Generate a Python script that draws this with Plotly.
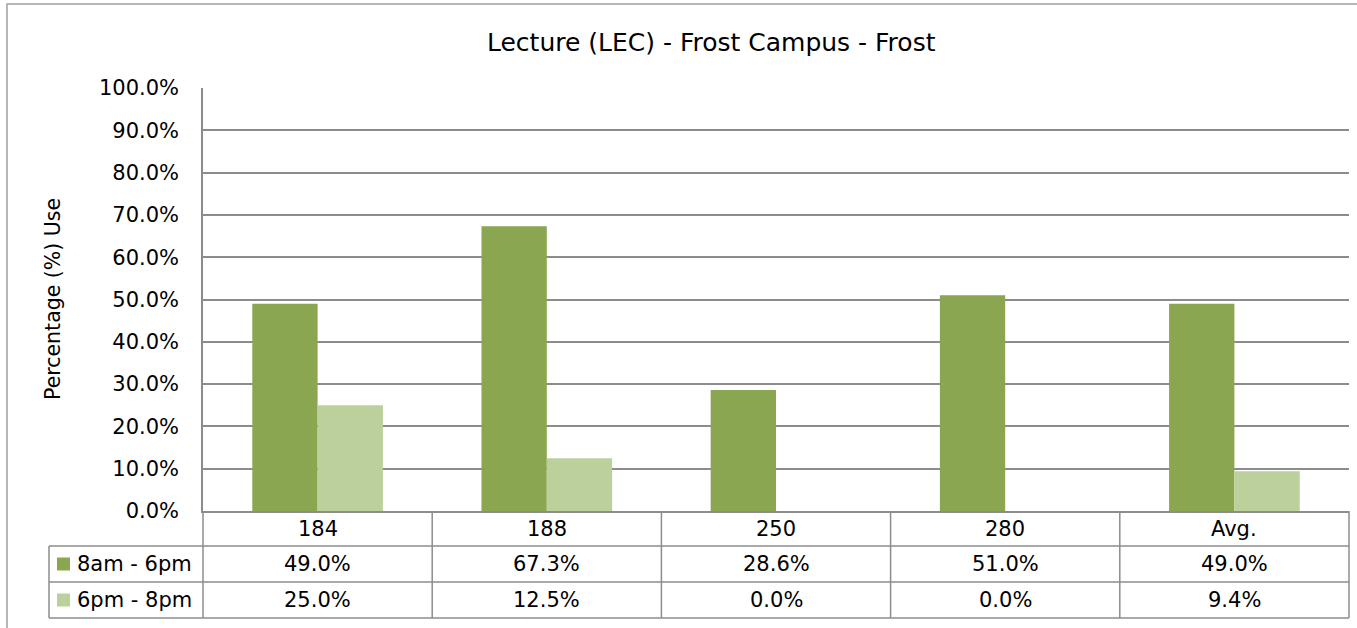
import plotly.graph_objects as go

categories = ["184", "188", "250", "280", "Avg."]
series_names = ["8am - 6pm", "6pm - 8pm"]
day_values = [49.0, 67.3, 28.6, 51.0, 49.0]
eve_values = [25.0, 12.5, 0.0, 0.0, 9.4]
y_ticks = [0, 10, 20, 30, 40, 50, 60, 70, 80, 90, 100]
y_tick_labels = [f"{v:.1f}%" for v in y_ticks]

colors = ["#8AA650", "#BBD09A"]
FONT = "DejaVu Sans"
W, H = 1357, 628
L, R, T, B = 203, 1349, 88, 511
GRID = "#8C8C8C"
TBL = "#8C8C8C"

def py(Y):  # pixel y -> paper y
    return (B - Y) / (B - T)

def px(X):
    return (X - L) / (R - L)

fig = go.Figure()
for name, vals, c in zip(series_names, [day_values, eve_values], colors):
    fig.add_trace(go.Bar(x=categories, y=vals, name=name, marker=dict(color=c, line=dict(width=0)),
                         showlegend=False))

shapes = []
shapes.append(dict(type="rect", xref="paper", yref="paper", x0=px(7), x1=px(1400), y0=py(4), y1=py(700),
                   line=dict(color="#A0A0A0", width=1.5), layer="below"))
for Y in [546, 582, 618]:
    shapes.append(dict(type="line", xref="paper", yref="paper", x0=px(49), x1=px(R), y0=py(Y), y1=py(Y),
                       line=dict(color=TBL, width=1.5)))
shapes.append(dict(type="line", xref="paper", yref="paper", x0=px(49), x1=px(49), y0=py(546), y1=py(618),
                   line=dict(color=TBL, width=1.5)))
ncat = len(categories)
for i in range(ncat + 1):
    xx = i / ncat
    shapes.append(dict(type="line", xref="paper", yref="paper", x0=xx, x1=xx, y0=py(B), y1=py(618),
                       line=dict(color=TBL, width=1.5)))

TF = 21
annotations = []
annotations.append(dict(text="Lecture (LEC) - Frost Campus - Frost", xref="paper", yref="paper",
                        x=px(711), y=py(43), showarrow=False, font=dict(size=25, color="black", family=FONT),
                        xanchor="center", yanchor="middle"))
annotations.append(dict(text="Percentage (%) Use", xref="paper", yref="paper", x=px(53), y=py(299),
                        textangle=-90, showarrow=False, font=dict(size=20.5, color="black", family=FONT),
                        xanchor="center", yanchor="middle"))
for i, cat in enumerate(categories):
    annotations.append(dict(text=cat, xref="x", yref="paper", x=i, y=py(529), showarrow=False,
                            font=dict(size=TF, color="black", family=FONT), xanchor="center", yanchor="middle"))
row_centers = [564, 600]
for vals, yc in zip([day_values, eve_values], row_centers):
    for i, v in enumerate(vals):
        annotations.append(dict(text=f"{v:.1f}%", xref="x", yref="paper", x=i, y=py(yc), showarrow=False,
                                font=dict(size=TF, color="black", family=FONT), xanchor="center", yanchor="middle"))
for name, c, yc in zip(series_names, colors, row_centers):
    shapes.append(dict(type="rect", xref="paper", yref="paper", x0=px(57), x1=px(70), y0=py(yc - 6.5), y1=py(yc + 6.5),
                       fillcolor=c, line=dict(width=0)))
    annotations.append(dict(text=name, xref="paper", yref="paper", x=px(75), y=py(yc), showarrow=False,
                            font=dict(size=TF, color="black", family=FONT), xanchor="left", yanchor="middle"))

fig.update_layout(
    width=W, height=H,
    margin=dict(l=L, r=W - R, t=T, b=H - B, pad=0),
    paper_bgcolor="white", plot_bgcolor="white",
    barmode="group", bargap=0.43, bargroupgap=0,
    shapes=shapes, annotations=annotations,
    font=dict(family=FONT, color="black"),
)
fig.update_xaxes(type="category", categoryorder="array", categoryarray=categories, range=[-0.5, ncat - 0.5],
                 showticklabels=False, showgrid=False, showline=True, linecolor=TBL,
                 linewidth=1.5, zeroline=False, ticks="")
fig.update_yaxes(range=[0, 100], tickvals=y_ticks, ticktext=y_tick_labels, showgrid=True, gridcolor=GRID,
                 gridwidth=1.5, showline=True, linecolor=TBL, linewidth=1.5, zeroline=False,
                 tickfont=dict(size=21, color="black", family=FONT), ticks="outside", ticklen=18,
                 tickcolor="rgba(0,0,0,0)")

fig.write_html("out.html", config={"displayModeBar": False},
               post_script="document.body.style.margin='0';document.body.style.padding='0';")
